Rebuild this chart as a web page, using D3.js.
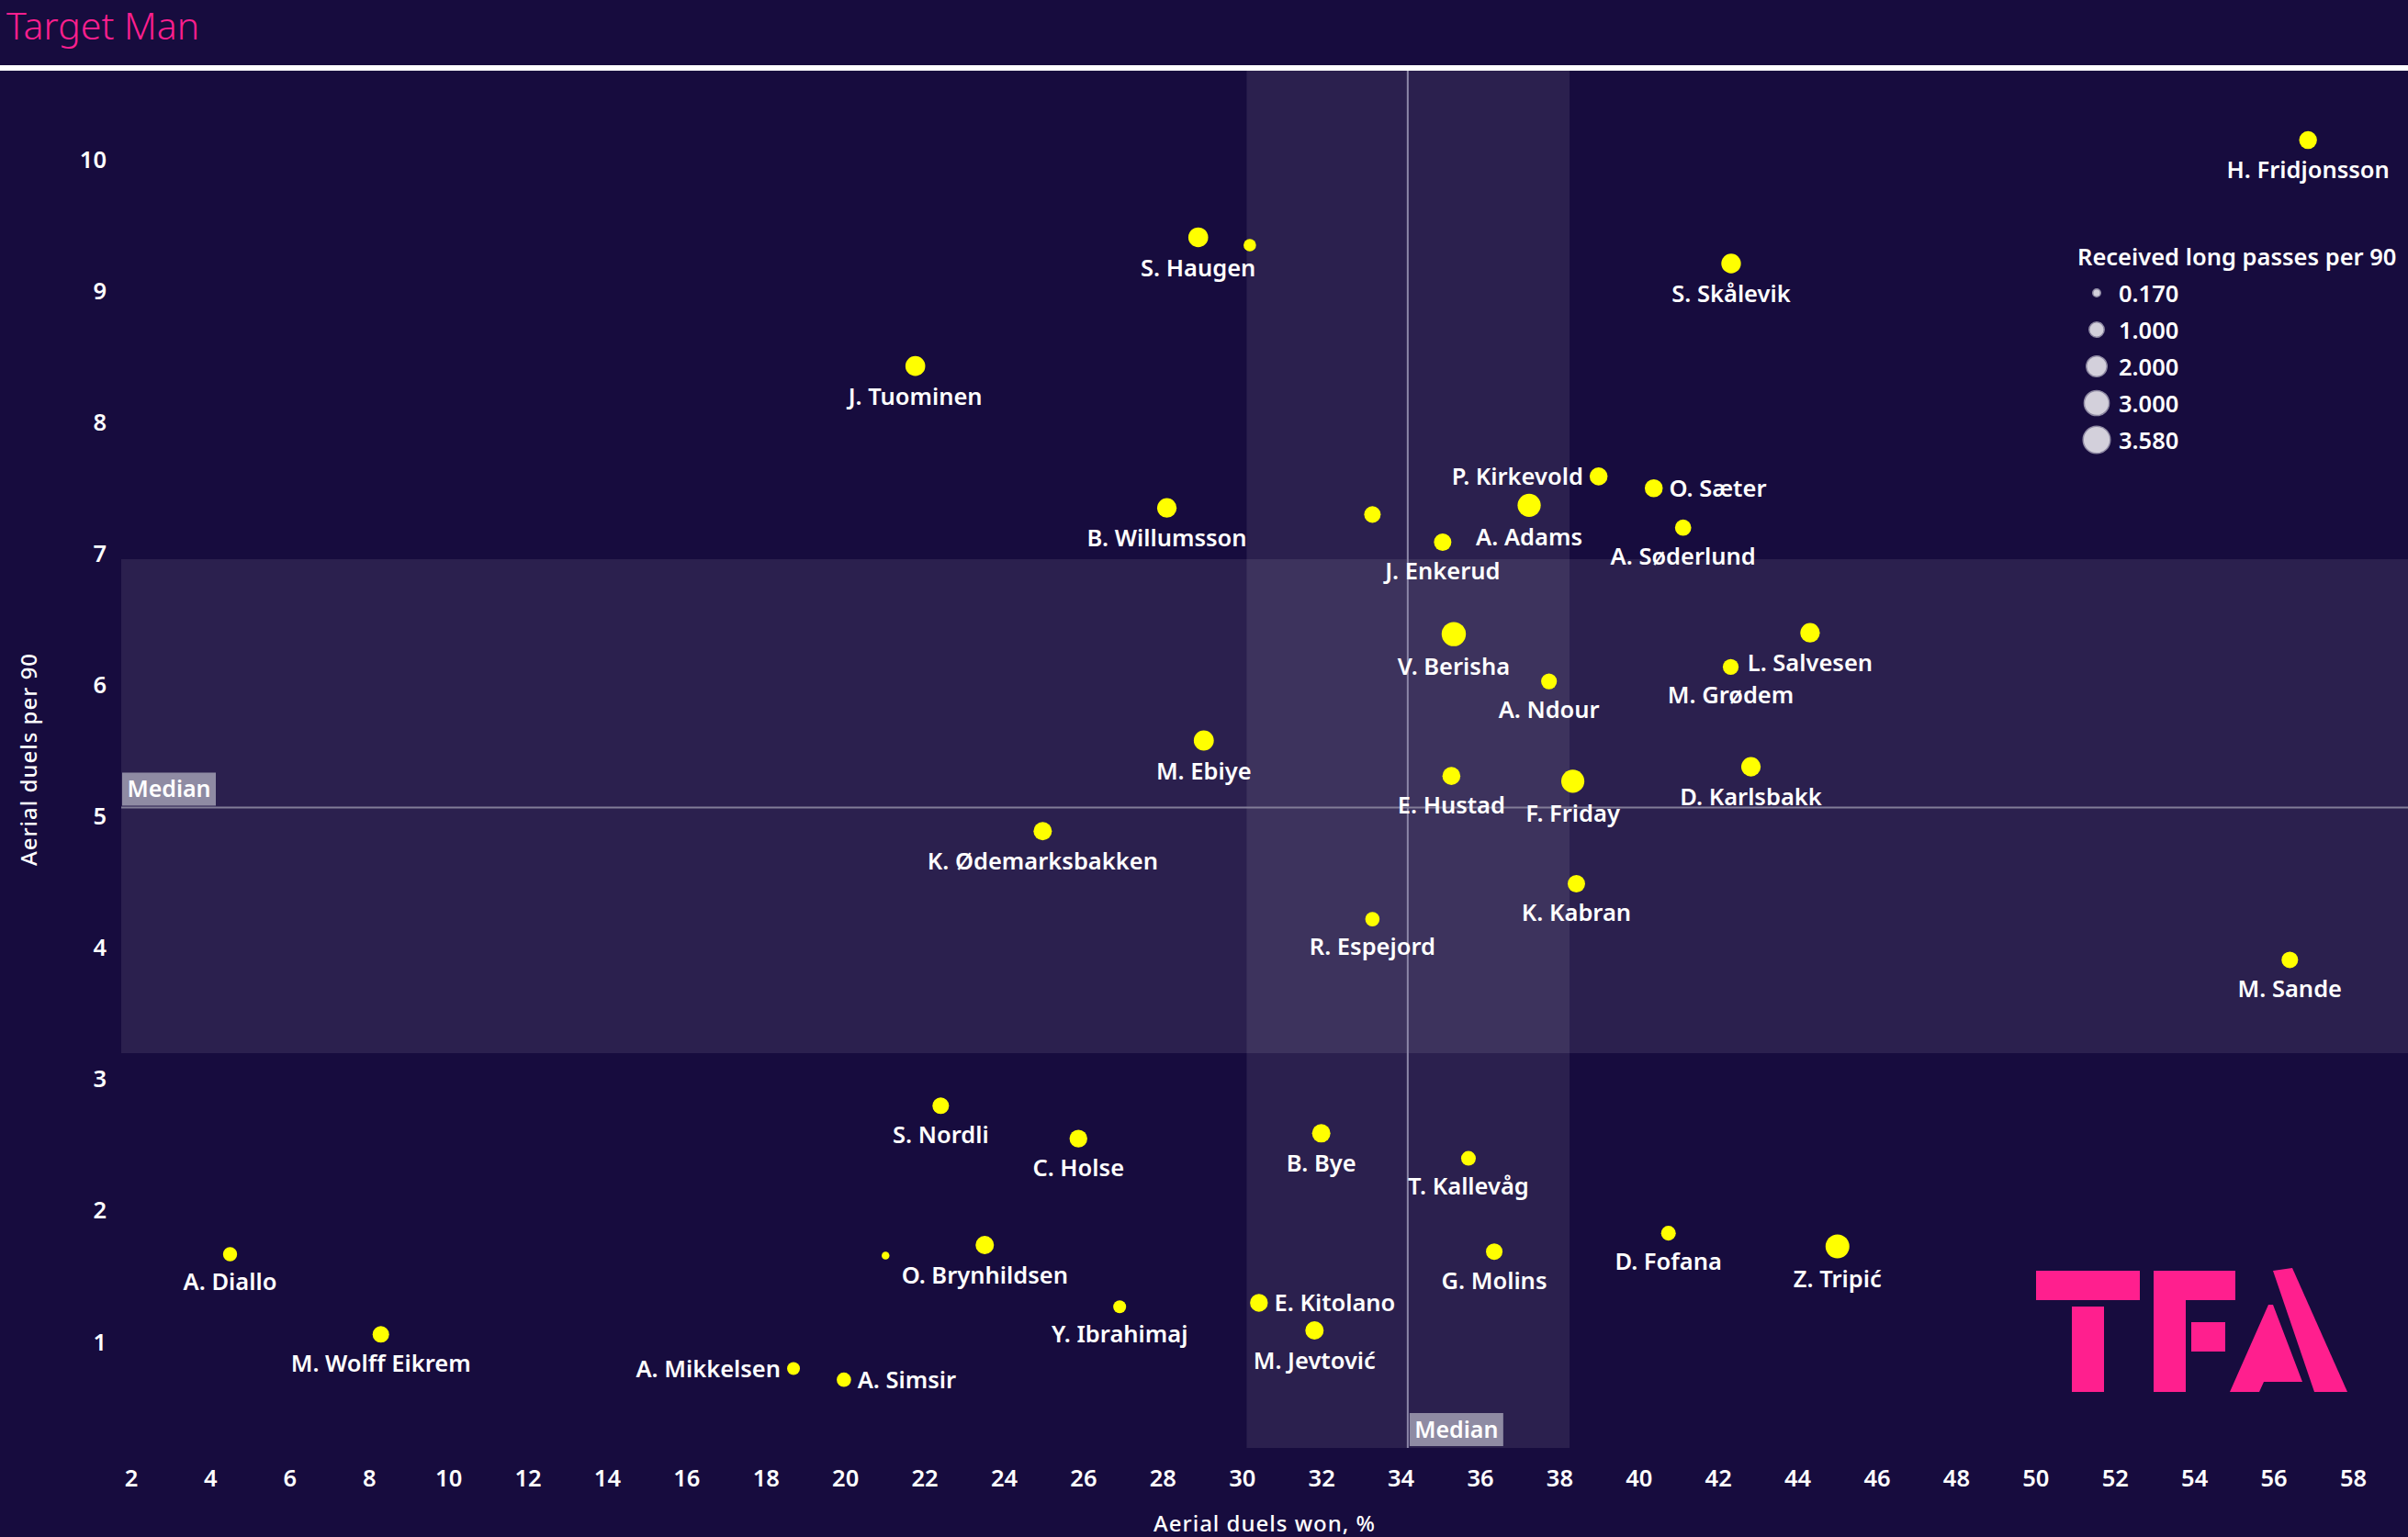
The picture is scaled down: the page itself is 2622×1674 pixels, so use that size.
<!DOCTYPE html>
<html><head><meta charset="utf-8">
<script src="https://cdn.jsdelivr.net/npm/d3@7"></script>
<style>html,body{margin:0;padding:0;background:#170c3e;} svg{display:block}</style>
</head><body>
<svg id="chart" width="2622" height="1674"></svg>
<script>
// ---------------- DATA ----------------
const players = ["H. Fridjonsson","S. Haugen","","S. Skålevik","J. Tuominen","P. Kirkevold","O. Sæter","A. Adams",
  "B. Willumsson","","A. Søderlund","J. Enkerud","V. Berisha","L. Salvesen","M. Grødem","A. Ndour","M. Ebiye",
  "E. Hustad","F. Friday","D. Karlsbakk","K. Ødemarksbakken","K. Kabran","R. Espejord","M. Sande","S. Nordli",
  "C. Holse","B. Bye","T. Kallevåg","A. Diallo","","O. Brynhildsen","D. Fofana","Z. Tripić","G. Molins",
  "Y. Ibrahimaj","E. Kitolano","M. Jevtović","M. Wolff Eikrem","A. Mikkelsen","A. Simsir"];
const aerialWonPct = [56.87,28.90,30.20,42.33,21.77,38.99,40.38,37.24,
  28.11,33.29,41.12,35.06,35.34,44.32,42.32,37.74,29.04,
  35.28,38.34,42.83,24.98,38.43,33.29,56.41,22.41,
  25.88,32.00,35.71,4.50,21.02,23.52,40.75,45.01,36.36,
  26.92,30.43,31.83,8.30,18.70,19.97];
const aerialDuelsPer90 = [10.15,9.41,9.35,9.21,8.43,7.59,7.50,7.37,
  7.35,7.30,7.20,7.09,6.39,6.40,6.14,6.03,5.58,
  5.31,5.27,5.38,4.89,4.49,4.22,3.91,2.80,
  2.55,2.59,2.40,1.67,1.66,1.74,1.83,1.73,1.69,
  1.27,1.30,1.09,1.06,0.80,0.715];
const longPassesPer90 = [1.46,1.84,0.65,1.80,1.84,1.49,1.49,2.56,
  1.77,1.24,1.20,1.39,2.82,1.77,1.12,1.12,1.88,
  1.49,2.56,1.77,1.56,1.39,0.90,1.24,1.24,
  1.46,1.56,0.95,0.87,0.17,1.56,0.95,2.73,1.24,
  0.69,1.46,1.56,1.24,0.69,0.90];
const xTicks = [2,4,6,8,10,12,14,16,18,20,22,24,26,28,30,32,34,36,38,40,42,44,46,48,50,52,54,56,58];
const yTicks = [1,2,3,4,5,6,7,8,9,10];
const legendValues = [0.17,1,2,3,3.58];
const legendLabels = ["0.170","1.000","2.000","3.000","3.580"];
const medianX = 34.18, medianY = 5.07;
const bandX = [30.12, 38.26];
const bandY = [3.20, 6.96];

// ---------------- LAYOUT ----------------
const labelSide = {"P. Kirkevold":"left","O. Sæter":"right","E. Kitolano":"right","A. Simsir":"right","A. Mikkelsen":"left"};
const W = 2622, H = 1674;
const plot = {left:132, right:2622, top:77, bottom:1577};
const BG = "#170c3e", PINK = "#ff1f8e";
const FONT = "'Noto Sans', sans-serif";

const svg = d3.select("#chart");
svg.append("rect").attr("width",W).attr("height",H).attr("fill",BG);

const x = d3.scaleLinear().domain([2,58]).range([142.5,2562]);
const y = d3.scaleLinear().domain([1,10]).range([1461.9,174]);
const area = d3.scaleLinear().domain([0.17,3.58]).range([18.1,219]);
const rad = v => Math.sqrt(area(v));

// title
svg.append("text").attr("x",7).attr("y",43).text("Target Man")
  .attr("fill",PINK).attr("font-family",FONT).attr("font-weight",300).attr("font-size",41);
svg.append("rect").attr("x",0).attr("y",71).attr("width",W).attr("height",6).attr("fill","#ffffff");

// bands
svg.append("rect").attr("x",x(bandX[0])).attr("y",plot.top)
  .attr("width",x(bandX[1])-x(bandX[0])).attr("height",plot.bottom-plot.top)
  .attr("fill","#ffffff").attr("fill-opacity",0.086);
svg.append("rect").attr("x",plot.left).attr("y",y(bandY[1]))
  .attr("width",plot.right-plot.left).attr("height",y(bandY[0])-y(bandY[1]))
  .attr("fill","#ffffff").attr("fill-opacity",0.086);

// median lines
svg.append("line").attr("x1",x(medianX)).attr("x2",x(medianX)).attr("y1",plot.top).attr("y2",plot.bottom)
  .attr("stroke","#8d87a8").attr("stroke-width",2);
svg.append("line").attr("x1",plot.left).attr("x2",plot.right).attr("y1",y(medianY)).attr("y2",y(medianY))
  .attr("stroke","#827d98").attr("stroke-width",2);

// median labels
function medianLabel(x0, y0){
  const g = svg.append("g").attr("transform",`translate(${x0},${y0})`);
  g.append("rect").attr("width",102).attr("height",36).attr("fill","#8f8ba3");
  g.append("text").attr("x",51).attr("y",27).attr("text-anchor","middle").text("Median")
    .attr("fill","#ffffff").attr("font-family",FONT).attr("font-weight",600).attr("font-size",25);
}
medianLabel(plot.left+1, y(medianY)-38);
medianLabel(x(medianX)+2, plot.bottom-38);

// axes
const xAxis = svg.append("g").attr("transform",`translate(0,1601)`)
  .call(d3.axisBottom(x).tickValues(xTicks).tickSize(0).tickPadding(0).tickFormat(d3.format("d")));
const yAxis = svg.append("g").attr("transform",`translate(116,0)`)
  .call(d3.axisLeft(y).tickValues(yTicks).tickSize(0).tickPadding(0).tickFormat(d3.format("d")));
[xAxis,yAxis].forEach(a=>{
  a.select(".domain").remove();
  a.selectAll("text").attr("fill","#ffffff").attr("font-family",FONT).attr("font-weight",600).attr("font-size",25.5);
});

svg.append("text").attr("x",(plot.left+plot.right)/2).attr("y",1668).attr("text-anchor","middle")
  .text("Aerial duels won, %").attr("fill","#ffffff").attr("font-family",FONT).attr("font-weight",500)
  .attr("font-size",24).attr("letter-spacing",1);
svg.append("text").attr("transform",`translate(40,${(plot.top+plot.bottom)/2}) rotate(-90)`).attr("text-anchor","middle")
  .text("Aerial duels per 90").attr("fill","#ffffff").attr("font-family",FONT).attr("font-weight",500)
  .attr("font-size",24).attr("letter-spacing",1);

// points
const data = players.map((n,i)=>({name:n, xv:aerialWonPct[i], yv:aerialDuelsPer90[i], s:longPassesPer90[i]}));
svg.append("g").selectAll("circle").data(data).join("circle")
  .attr("cx",d=>x(d.xv)).attr("cy",d=>y(d.yv)).attr("r",d=>rad(d.s)).attr("fill","#ffff00");

svg.append("g").selectAll("text").data(data.filter(d=>d.name)).join("text")
  .each(function(d){
    const t = d3.select(this), cx = x(d.xv), cy = y(d.yv), r = rad(d.s);
    const side = labelSide[d.name] || "below";
    if(side==="below") t.attr("x",cx).attr("y",cy+r+31.5).attr("text-anchor","middle");
    else if(side==="right") t.attr("x",cx+r+7).attr("y",cy+9).attr("text-anchor","start");
    else t.attr("x",cx-r-7).attr("y",cy+9).attr("text-anchor","end");
  })
  .text(d=>d.name).attr("fill","#ffffff").attr("font-family",FONT).attr("font-weight",600).attr("font-size",25.5);

// legend
const lg = svg.append("g");
lg.append("text").attr("x",2262).attr("y",289).text("Received long passes per 90")
  .attr("fill","#ffffff").attr("font-family",FONT).attr("font-weight",600).attr("font-size",25.5);
legendValues.forEach((v,i)=>{
  const cy = 319 + i*40;
  lg.append("circle").attr("cx",2283).attr("cy",cy).attr("r",rad(v))
    .attr("fill","#d3d0db").attr("stroke","#8f8aa3").attr("stroke-width",1.5);
  lg.append("text").attr("x",2307).attr("y",cy+9.5).text(legendLabels[i])
    .attr("fill","#ffffff").attr("font-family",FONT).attr("font-weight",600).attr("font-size",25.5);
});

// TFA logo
const logo = svg.append("g").attr("fill",PINK);
[[2217,1384,113,32],[2256,1423,35,93],[2345,1384,35,132],[2345,1384,89,32],[2386,1440,37,32]]
  .forEach(r=>logo.append("rect").attr("x",r[0]).attr("y",r[1]).attr("width",r[2]).attr("height",r[3]));
logo.append("polygon").attr("points","2475,1384 2496,1381 2556,1516 2520,1516");
logo.append("polygon").attr("points","2428,1516 2470,1421 2475,1421 2507,1505 2465,1505 2460,1516");
</script>
</body></html>
